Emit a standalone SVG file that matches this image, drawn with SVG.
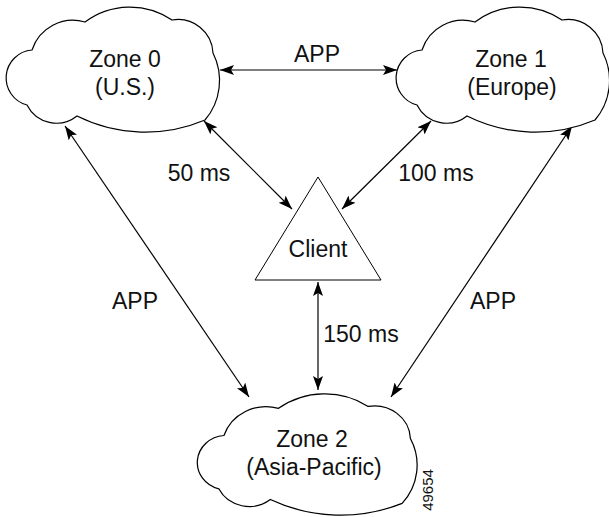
<svg xmlns="http://www.w3.org/2000/svg" width="609" height="517" viewBox="0 0 609 517">
<defs>
<style>
.cloud{fill:#fff;stroke:#000;stroke-width:1.2}
.tri{fill:#fff;stroke:#000;stroke-width:1}
.lbl{font-family:"Liberation Sans",Arial,sans-serif;font-size:23px;fill:#111;text-anchor:middle}
.conn{stroke:#000;stroke-width:1.2;fill:none;marker-start:url(#ah);marker-end:url(#ah)}
</style>
<marker id="ah" markerUnits="userSpaceOnUse" markerWidth="16" markerHeight="12" refX="14" refY="5" orient="auto-start-reverse">
<path d="M0,0 L14,5 L0,10 L3,5 Z" fill="#000"/>
</marker>
<path id="cloudShape" d="M32,50 A43,43 0 0 1 85,22 A75,75 0 0 1 172,20 A35,35 0 0 1 213,53 A61,61 0 0 1 205,120 A153,153 0 0 1 77,116 A33,33 0 0 1 27,105 A28,28 0 0 1 32,50 Z"/>
</defs>
<rect width="609" height="517" fill="#fff"/>
<g id="connectors">
<line class="conn" x1="220" y1="70" x2="397" y2="70"/>
<line class="conn" x1="204" y1="121" x2="292" y2="209"/>
<line class="conn" x1="431" y1="121" x2="342" y2="209"/>
<line class="conn" x1="318" y1="282" x2="318" y2="390"/>
<line class="conn" x1="65" y1="126" x2="249" y2="397"/>
<line class="conn" x1="572" y1="126" x2="391" y2="397"/>
<text class="lbl" x="317" y="62">APP</text>
<text class="lbl" x="199" y="181">50 ms</text>
<text class="lbl" x="436" y="181">100 ms</text>
<text class="lbl" x="361" y="342">150 ms</text>
<text class="lbl" x="135" y="309">APP</text>
<text class="lbl" x="493" y="309">APP</text>
</g>
<g id="zone0">
<use href="#cloudShape" class="cloud"/>
<text class="lbl" x="125" y="67">Zone 0</text>
<text class="lbl" x="125" y="95">(U.S.)</text>
</g>
<g id="zone1">
<use href="#cloudShape" class="cloud" transform="translate(390,0)"/>
<text class="lbl" x="511" y="67">Zone 1</text>
<text class="lbl" x="512" y="95">(Europe)</text>
</g>
<g id="zone2">
<use href="#cloudShape" class="cloud" transform="translate(191,387) scale(1.03,0.97)"/>
<text class="lbl" x="312" y="447">Zone 2</text>
<text class="lbl" x="314" y="475">(Asia-Pacific)</text>
</g>
<g id="client">
<polygon class="tri" points="318,177 381,280 255,280"/>
<text class="lbl" x="318" y="257">Client</text>
</g>
<text x="0" y="0" transform="translate(433,490) rotate(-90)" font-family="'Liberation Sans',Arial,sans-serif" font-size="15" fill="#111" text-anchor="middle">49654</text>
</svg>
